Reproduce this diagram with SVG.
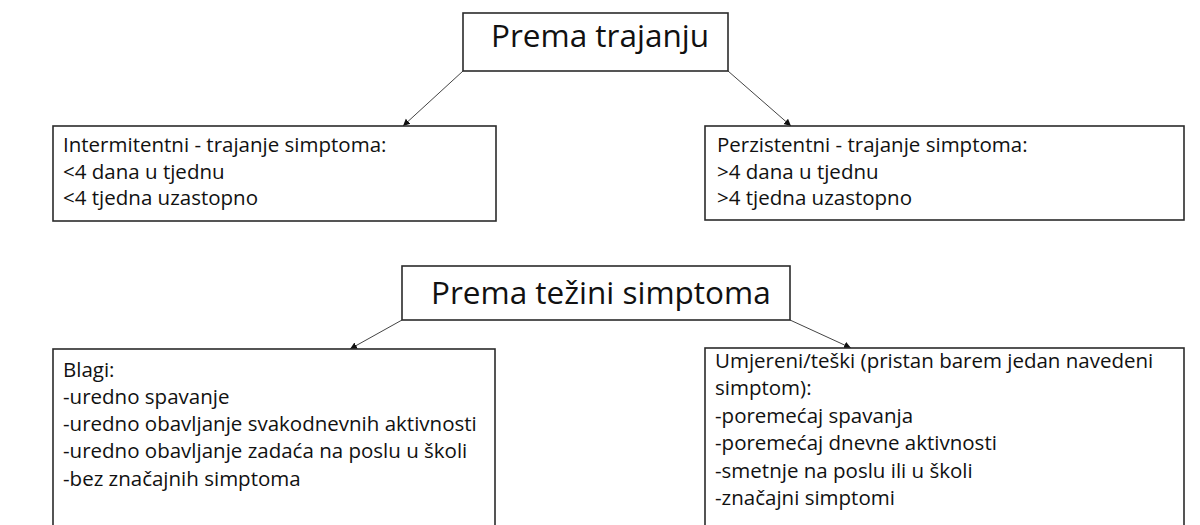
<svg xmlns="http://www.w3.org/2000/svg" width="1200" height="525" viewBox="0 0 1200 525">
<style>
.box{fill:#fff;stroke:#2b2b2b;stroke-width:1.6}
.t{font-family:"Open Sans","Noto Sans","Liberation Sans",sans-serif;font-size:20.5px;fill:#111}
.h{font-family:"Open Sans","Noto Sans","Liberation Sans",sans-serif;font-size:31.5px;fill:#111}
.c{stroke:#444;stroke-width:1;fill:none;marker-end:url(#ah)}
</style>
<defs>
<marker id="ah" markerWidth="8" markerHeight="8" refX="7" refY="4" orient="auto" markerUnits="userSpaceOnUse">
<path d="M0,0.5 L7,4 L0,7.5 Z" fill="#111"/>
</marker>
</defs>
<rect width="1200" height="525" fill="#fff"/>
<g id="connectors">
<line class="c" x1="463" y1="71" x2="403" y2="126"/>
<line class="c" x1="728" y1="71" x2="791" y2="126"/>
<line class="c" x1="402" y1="320" x2="350" y2="349"/>
<line class="c" x1="790" y1="320" x2="851" y2="348"/>
</g>
<g id="node-trajanje">
<rect class="box" x="463" y="13" width="265" height="58"/>
<text class="h" x="491" y="47">Prema trajanju</text>
</g>
<g id="node-intermitentni">
<rect class="box" x="53" y="126" width="443" height="95"/>
<text class="t" x="63" y="152">Intermitentni - trajanje simptoma:</text>
<text class="t" x="63" y="179">&lt;4 dana u tjednu</text>
<text class="t" x="63" y="205">&lt;4 tjedna uzastopno</text>
</g>
<g id="node-perzistentni">
<rect class="box" x="705" y="126" width="479" height="94"/>
<text class="t" x="717" y="152">Perzistentni - trajanje simptoma:</text>
<text class="t" x="717" y="179">&gt;4 dana u tjednu</text>
<text class="t" x="717" y="205">&gt;4 tjedna uzastopno</text>
</g>
<g id="node-tezina">
<rect class="box" x="402" y="266" width="388" height="54"/>
<text class="h" x="431" y="304">Prema težini simptoma</text>
</g>
<g id="node-blagi">
<rect class="box" x="53" y="349" width="442" height="200"/>
<text class="t" x="63" y="377">Blagi:</text>
<text class="t" x="63" y="404">-uredno spavanje</text>
<text class="t" x="63" y="431">-uredno obavljanje svakodnevnih aktivnosti</text>
<text class="t" x="63" y="458">-uredno obavljanje zadaća na poslu u školi</text>
<text class="t" x="63" y="486">-bez značajnih simptoma</text>
</g>
<g id="node-umjereni">
<rect class="box" x="705" y="348" width="479" height="200"/>
<text class="t" x="715" y="368">Umjereni/teški (pristan barem jedan navedeni</text>
<text class="t" x="715" y="395">simptom):</text>
<text class="t" x="715" y="423">-poremećaj spavanja</text>
<text class="t" x="715" y="450">-poremećaj dnevne aktivnosti</text>
<text class="t" x="715" y="478">-smetnje na poslu ili u školi</text>
<text class="t" x="715" y="505">-značajni simptomi</text>
</g>
</svg>
